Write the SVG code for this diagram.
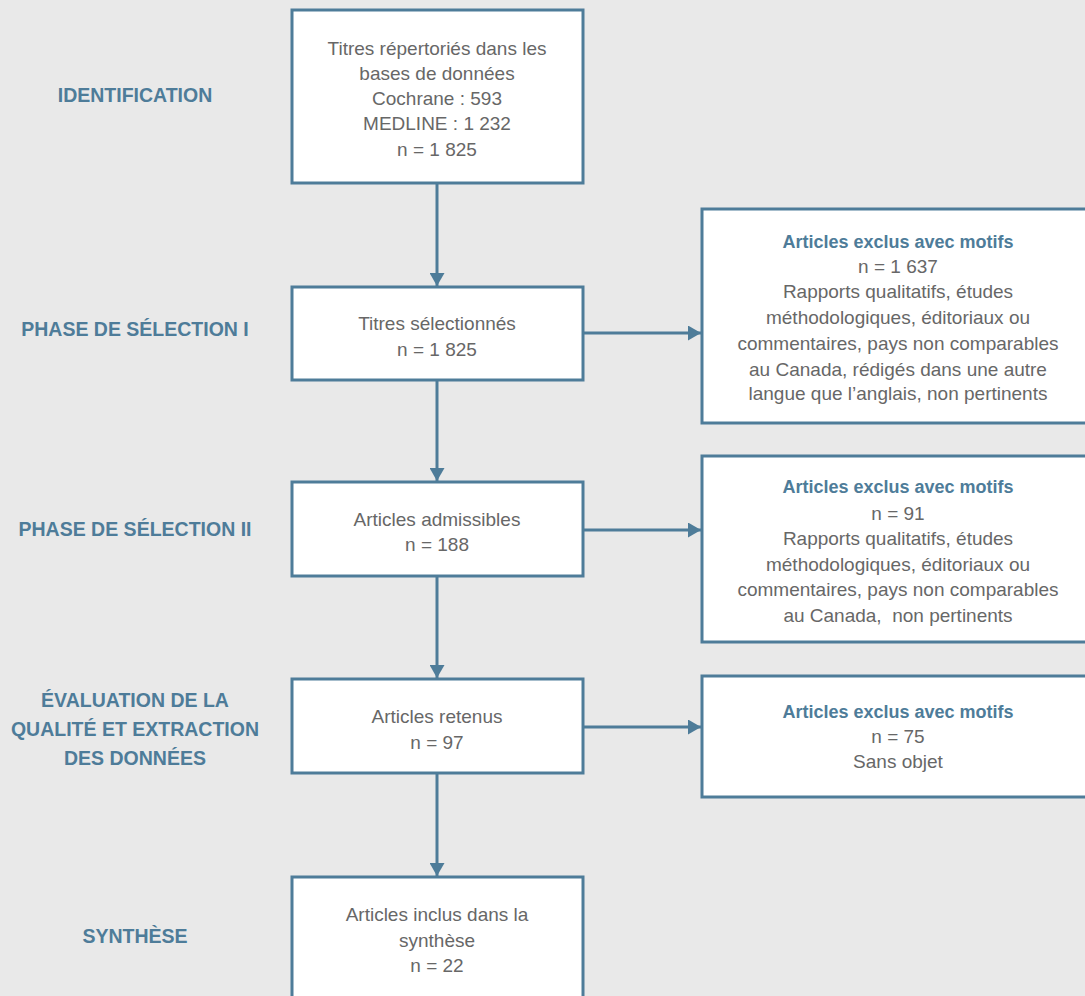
<svg xmlns="http://www.w3.org/2000/svg" width="1085" height="996" viewBox="0 0 1085 996">
<style>
.box{fill:#fff;stroke:#4e7c99;stroke-width:3}
.t{font-family:"Liberation Sans",Arial,sans-serif;font-size:19px;fill:#676767;text-anchor:middle}
.h{font-family:"Liberation Sans",Arial,sans-serif;font-size:18px;font-weight:bold;fill:#4e7c99;text-anchor:middle}
.lab{font-family:"Liberation Sans",Arial,sans-serif;font-size:19.5px;font-weight:bold;fill:#4e7c99;text-anchor:middle}
.c{stroke:#4e7c99;stroke-width:3;fill:none}
</style>
<defs>
<marker id="ah" markerUnits="userSpaceOnUse" viewBox="0 0 13 15" refX="13" refY="7.5" markerWidth="13" markerHeight="15" orient="auto">
<path d="M0,0 L13,7.5 L0,15 z" fill="#4e7c99"/>
</marker>
</defs>
<rect width="1085" height="996" fill="#e9e9e9"/>
<g id="labels">
<text class="lab" x="135" y="102">IDENTIFICATION</text>
<text class="lab" x="135" y="336">PHASE DE SÉLECTION I</text>
<text class="lab" x="135" y="536">PHASE DE SÉLECTION II</text>
<text class="lab" x="135" y="707">ÉVALUATION DE LA</text>
<text class="lab" x="135" y="736">QUALITÉ ET EXTRACTION</text>
<text class="lab" x="135" y="765">DES DONNÉES</text>
<text class="lab" x="135" y="943">SYNTHÈSE</text>
</g>
<g id="connectors">
<line class="c" x1="437" y1="183" x2="437" y2="286" marker-end="url(#ah)"/>
<line class="c" x1="437" y1="380" x2="437" y2="481" marker-end="url(#ah)"/>
<line class="c" x1="437" y1="576" x2="437" y2="678" marker-end="url(#ah)"/>
<line class="c" x1="437" y1="773" x2="437" y2="876" marker-end="url(#ah)"/>
<line class="c" x1="583" y1="333" x2="701" y2="333" marker-end="url(#ah)"/>
<line class="c" x1="583" y1="530" x2="701" y2="530" marker-end="url(#ah)"/>
<line class="c" x1="583" y1="727" x2="701" y2="727" marker-end="url(#ah)"/>
</g>
<g id="n1">
<rect class="box" x="292" y="10" width="291" height="173"/>
<text class="t" x="437" y="55">Titres répertoriés dans les</text>
<text class="t" x="437" y="80">bases de données</text>
<text class="t" x="437" y="105">Cochrane : 593</text>
<text class="t" x="437" y="130">MEDLINE : 1 232</text>
<text class="t" x="437" y="156">n = 1 825</text>
</g>
<g id="n2">
<rect class="box" x="292" y="287" width="291" height="93"/>
<text class="t" x="437" y="330">Titres sélectionnés</text>
<text class="t" x="437" y="356">n = 1 825</text>
</g>
<g id="n3">
<rect class="box" x="292" y="482" width="291" height="94"/>
<text class="t" x="437" y="526">Articles admissibles</text>
<text class="t" x="437" y="551">n = 188</text>
</g>
<g id="n4">
<rect class="box" x="292" y="679" width="291" height="94"/>
<text class="t" x="437" y="723">Articles retenus</text>
<text class="t" x="437" y="749">n = 97</text>
</g>
<g id="n5">
<rect class="box" x="292" y="877" width="291" height="140"/>
<text class="t" x="437" y="921">Articles inclus dans la</text>
<text class="t" x="437" y="947">synthèse</text>
<text class="t" x="437" y="972">n = 22</text>
</g>
<g id="e1">
<rect class="box" x="702" y="209" width="392" height="214"/>
<text class="h" x="898" y="248">Articles exclus avec motifs</text>
<text class="t" x="898" y="273">n = 1 637</text>
<text class="t" x="898" y="298">Rapports qualitatifs, études</text>
<text class="t" x="898" y="324">méthodologiques, éditoriaux ou</text>
<text class="t" x="898" y="350">commentaires, pays non comparables</text>
<text class="t" x="898" y="376">au Canada, rédigés dans une autre</text>
<text class="t" x="898" y="400">langue que l’anglais, non pertinents</text>
</g>
<g id="e2">
<rect class="box" x="702" y="456" width="392" height="186"/>
<text class="h" x="898" y="493">Articles exclus avec motifs</text>
<text class="t" x="898" y="520">n = 91</text>
<text class="t" x="898" y="545">Rapports qualitatifs, études</text>
<text class="t" x="898" y="571">méthodologiques, éditoriaux ou</text>
<text class="t" x="898" y="596">commentaires, pays non comparables</text>
<text class="t" x="898" y="622" xml:space="preserve">au Canada,  non pertinents</text>
</g>
<g id="e3">
<rect class="box" x="702" y="676" width="392" height="121"/>
<text class="h" x="898" y="718">Articles exclus avec motifs</text>
<text class="t" x="898" y="743">n = 75</text>
<text class="t" x="898" y="768">Sans objet</text>
</g>
</svg>
